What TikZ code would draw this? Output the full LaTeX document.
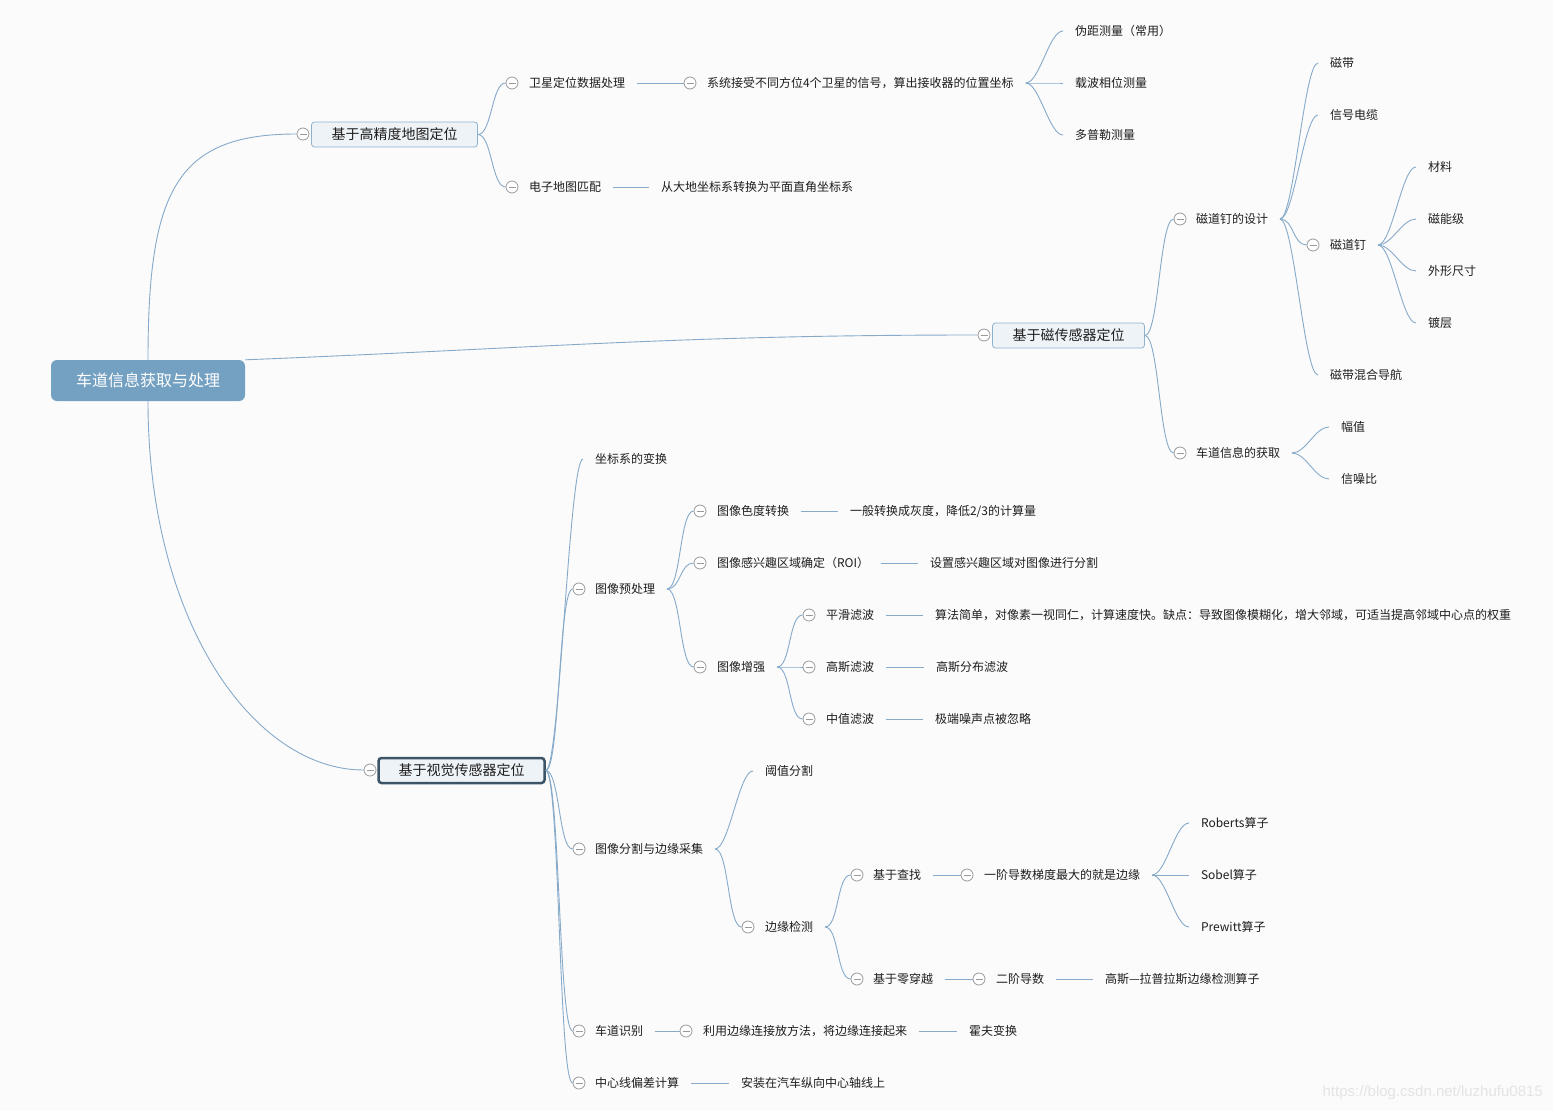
\documentclass[tikz,border=0pt]{standalone}
\usepackage{fontspec}
\setmainfont{Noto Sans CJK SC}
\newfontfamily\wmfont{Liberation Sans}
\definecolor{bg}{HTML}{FBFBFB}
\definecolor{ink}{HTML}{1E1E1E}
\definecolor{linkblue}{HTML}{86AACA}
\definecolor{foldgray}{HTML}{9A9A9A}
\definecolor{topicfill}{HTML}{EEF3F7}
\definecolor{topicline}{HTML}{8EB1CD}
\definecolor{pickline}{HTML}{3C5468}
\definecolor{rootfill}{HTML}{74A1C1}
\definecolor{wmgray}{HTML}{E4E4E4}

\begin{document}
\begin{tikzpicture}[x=1pt,y=-1pt,
  conn/.style={draw=linkblue,line width=0.9pt},
  twig/.style={to path={.. controls +(14,0) and +(-14,0) .. (\tikztotarget)}},
  leaf/.style={anchor=west,inner sep=0pt,outer xsep=12pt,text=ink,font=\fontsize{12}{14.4}\selectfont},
  fold/.style={circle,draw=foldgray,fill=white,line width=0.8pt,minimum size=12pt,inner sep=0pt,
    path picture={\draw[foldgray,line width=0.8pt] ([xshift=-3.5pt]path picture bounding box.center) -- ([xshift=3.5pt]path picture bounding box.center);}},
  topic/.style={draw=topicline,fill=topicfill,line width=0.8pt,rounded corners=3pt,inner xsep=20pt,inner ysep=0pt,minimum height=25pt,text=ink,font=\fontsize{14}{16.8}\selectfont},
  picked/.style={topic,draw=pickline,line width=2.5pt},
  rootbox/.style={fill=rootfill,rounded corners=6pt,inner xsep=25pt,inner ysep=0pt,minimum height=41pt,text=white,font=\fontsize{16}{19.2}\selectfont}]
\path[use as bounding box] (0,0) rectangle (1553,1111);
\fill[bg] (0,0) rectangle (1553,1111);

\node[rootbox] (root) at (148,380.5) {车道信息获取与处理};
\node[topic] (hdmap) at (394.5,134.5) {基于高精度地图定位};
\node[fold] (f-hdmap) at (303,134) {};
\node[topic] (mag) at (1068.5,335.5) {基于磁传感器定位};
\node[fold] (f-mag) at (984,335) {};
\node[picked] (vis) at (461.5,770.5) {基于视觉传感器定位};
\node[fold] (f-vis) at (370,770) {};

\node[fold] (f-gnss) at (512,83) {};
\node[leaf] (gnss) at (517,83) {卫星定位数据处理};
\node[fold] (f-sig) at (690,83) {};
\node[leaf] (sig) at (695,83) {系统接受不同方位4个卫星的信号，算出接收器的位置坐标};
\node[leaf] (pr) at (1063,31) {伪距测量（常用）};
\node[leaf] (cp) at (1063,83) {载波相位测量};
\node[leaf] (dop) at (1063,135) {多普勒测量};
\node[fold] (f-emap) at (512,187) {};
\node[leaf] (emap) at (517,187) {电子地图匹配};
\node[leaf] (conv) at (649,187) {从大地坐标系转换为平面直角坐标系};

\node[fold] (f-naild) at (1180,219) {};
\node[leaf] (naild) at (1184,219) {磁道钉的设计};
\node[leaf] (tape) at (1318,63) {磁带};
\node[leaf] (cable) at (1318,115) {信号电缆};
\node[fold] (f-nail) at (1313,245) {};
\node[leaf] (nail) at (1318,245) {磁道钉};
\node[leaf] (mat) at (1416,167) {材料};
\node[leaf] (lvl) at (1416,219) {磁能级};
\node[leaf] (shape) at (1416,271) {外形尺寸};
\node[leaf] (coat) at (1416,323) {镀层};
\node[leaf] (hybrid) at (1318,375) {磁带混合导航};
\node[fold] (f-lane) at (1180,453) {};
\node[leaf] (lane) at (1184,453) {车道信息的获取};
\node[leaf] (amp) at (1329,427) {幅值};
\node[leaf] (snr) at (1329,479) {信噪比};

\node[leaf] (coord) at (583,459) {坐标系的变换};
\node[fold] (f-pre) at (579,589) {};
\node[leaf] (pre) at (583,589) {图像预处理};
\node[fold] (f-gray) at (700,511) {};
\node[leaf] (gray) at (705,511) {图像色度转换};
\node[leaf] (grayt) at (838,511) {一般转换成灰度，降低2/3的计算量};
\node[fold] (f-roi) at (700,563) {};
\node[leaf] (roi) at (705,563) {图像感兴趣区域确定（ROI）};
\node[leaf] (roit) at (918,563) {设置感兴趣区域对图像进行分割};
\node[fold] (f-enh) at (700,667) {};
\node[leaf] (enh) at (705,667) {图像增强};
\node[fold] (f-smooth) at (809,615) {};
\node[leaf] (smooth) at (814,615) {平滑滤波};
\node[leaf] (smootht) at (923,615) {算法简单，对像素一视同仁，计算速度快。缺点：导致图像模糊化，增大邻域，可适当提高邻域中心点的权重};
\node[fold] (f-gauss) at (809,667) {};
\node[leaf] (gauss) at (814,667) {高斯滤波};
\node[leaf] (gausst) at (924,667) {高斯分布滤波};
\node[fold] (f-median) at (809,719) {};
\node[leaf] (median) at (814,719) {中值滤波};
\node[leaf] (mediant) at (923,719) {极端噪声点被忽略};
\node[fold] (f-seg) at (579,849) {};
\node[leaf] (seg) at (583,849) {图像分割与边缘采集};
\node[leaf] (thr) at (753,771) {阈值分割};
\node[fold] (f-edge) at (748,927) {};
\node[leaf] (edge) at (753,927) {边缘检测};
\node[fold] (f-search) at (857,875) {};
\node[leaf] (search) at (861,875) {基于查找};
\node[fold] (f-grad) at (967,875) {};
\node[leaf] (grad) at (972,875) {一阶导数梯度最大的就是边缘};
\node[leaf] (rob) at (1189,823) {Roberts算子};
\node[leaf] (sob) at (1189,875) {Sobel算子};
\node[leaf] (prew) at (1189,927) {Prewitt算子};
\node[fold] (f-zero) at (857,979) {};
\node[leaf] (zero) at (861,979) {基于零穿越};
\node[fold] (f-d2) at (979,979) {};
\node[leaf] (d2) at (984,979) {二阶导数};
\node[leaf] (log) at (1093,979) {高斯—拉普拉斯边缘检测算子};
\node[fold] (f-laneid) at (579,1031) {};
\node[leaf] (laneid) at (583,1031) {车道识别};
\node[fold] (f-join) at (686,1031) {};
\node[leaf] (join) at (691,1031) {利用边缘连接放方法，将边缘连接起来};
\node[leaf] (hough) at (957,1031) {霍夫变换};
\node[fold] (f-dev) at (579,1083) {};
\node[leaf] (dev) at (583,1083) {中心线偏差计算};
\node[leaf] (axis) at (729,1083) {安装在汽车纵向中心轴线上};

\draw[conn] (root.north) .. controls +(0,-170) and +(-120,0) .. (f-hdmap.west);
\draw[conn] (root.north east) .. controls +(300,-12) and +(-300,0) .. (f-mag.west);
\draw[conn] (root.south) .. controls +(0,220) and +(-110,0) .. (f-vis.west);

\draw[conn,twig] (hdmap.east) to (f-gnss.west);
\draw[conn,twig] (hdmap.east) to (f-emap.west);
\draw[conn] (gnss.east) -- (f-sig.west);
\draw[conn,twig] (sig.east) to (pr.west);
\draw[conn,twig] (sig.east) to (cp.west);
\draw[conn,twig] (sig.east) to (dop.west);
\draw[conn] (emap.east) -- (conv.west);

\draw[conn,twig] (mag.east) to (f-naild.west);
\draw[conn,twig] (mag.east) to (f-lane.west);
\draw[conn,twig] (naild.east) to (tape.west);
\draw[conn,twig] (naild.east) to (cable.west);
\draw[conn,twig] (naild.east) to (f-nail.west);
\draw[conn,twig] (naild.east) to (hybrid.west);
\draw[conn,twig] (nail.east) to (mat.west);
\draw[conn,twig] (nail.east) to (lvl.west);
\draw[conn,twig] (nail.east) to (shape.west);
\draw[conn,twig] (nail.east) to (coat.west);
\draw[conn,twig] (lane.east) to (amp.west);
\draw[conn,twig] (lane.east) to (snr.west);

\draw[conn,twig] (vis.east) to (coord.west);
\draw[conn,twig] (vis.east) to (f-pre.west);
\draw[conn,twig] (vis.east) to (f-seg.west);
\draw[conn,twig] (vis.east) to (f-laneid.west);
\draw[conn,twig] (vis.east) to (f-dev.west);
\draw[conn,twig] (pre.east) to (f-gray.west);
\draw[conn,twig] (pre.east) to (f-roi.west);
\draw[conn,twig] (pre.east) to (f-enh.west);
\draw[conn] (gray.east) -- (grayt.west);
\draw[conn] (roi.east) -- (roit.west);
\draw[conn,twig] (enh.east) to (f-smooth.west);
\draw[conn,twig] (enh.east) to (f-gauss.west);
\draw[conn,twig] (enh.east) to (f-median.west);
\draw[conn] (smooth.east) -- (smootht.west);
\draw[conn] (gauss.east) -- (gausst.west);
\draw[conn] (median.east) -- (mediant.west);
\draw[conn,twig] (seg.east) to (thr.west);
\draw[conn,twig] (seg.east) to (f-edge.west);
\draw[conn,twig] (edge.east) to (f-search.west);
\draw[conn,twig] (edge.east) to (f-zero.west);
\draw[conn] (search.east) -- (f-grad.west);
\draw[conn,twig] (grad.east) to (rob.west);
\draw[conn,twig] (grad.east) to (sob.west);
\draw[conn,twig] (grad.east) to (prew.west);
\draw[conn] (zero.east) -- (f-d2.west);
\draw[conn] (d2.east) -- (log.west);
\draw[conn] (laneid.east) -- (f-join.west);
\draw[conn] (join.east) -- (hough.west);
\draw[conn] (dev.east) -- (axis.west);

\node[anchor=east,inner sep=0pt,text=wmgray,font=\wmfont\fontsize{15}{18}\selectfont] (wm) at (1543,1093) {https://blog.csdn.net/luzhufu0815};
\end{tikzpicture}
\end{document}
